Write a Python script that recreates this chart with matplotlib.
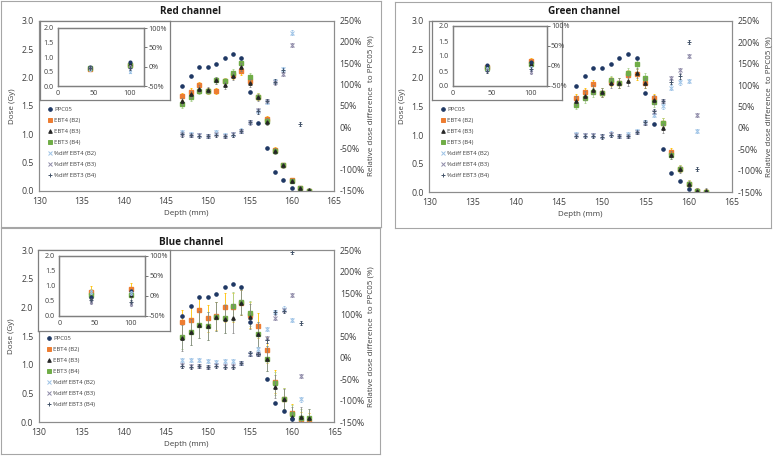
import numpy as np
import matplotlib
matplotlib.use("Agg")
from matplotlib import pyplot as plt
from matplotlib.lines import Line2D

plt.rcParams['font.family'] = ['Open Sans', 'DejaVu Sans']

nan = np.nan
depth = [147, 148, 149, 150, 151, 152, 153, 154, 155, 156, 157, 158, 159, 160, 161, 162]
inset_depth = [44, 100]

# reference chamber (same for every channel)
ppc05 = [1.85, 2.03, 2.18, 2.18, 2.24, 2.35, 2.41, 2.35, 1.74, 1.19, 0.75, 0.34, 0.20, 0.06, nan, nan]

# red channel
red_b2 = [1.67, 1.75, 1.86, 1.76, 1.76, 1.93, 2.05, 2.12, 1.93, 1.66, 1.27, 0.73, 0.46, 0.19, 0.05, 0.0]
red_b3 = [1.58, 1.70, 1.80, 1.78, 1.95, 1.86, 2.03, 2.18, 1.90, 1.65, 1.22, 0.71, 0.45, 0.18, 0.06, 0.02]
red_b4 = [1.53, 1.65, 1.76, 1.76, 1.95, 1.93, 2.08, 2.25, 2.00, 1.66, 1.23, 0.70, 0.45, 0.18, 0.05, 0.0]
red_err = [0.06, 0.06, 0.06, 0.06, 0.06, 0.06, 0.07, 0.07, 0.07, 0.06, 0.06, 0.05, 0.04, 0.04, 0.03, 0.03]
red_d2 = [-12, -17, -18, -20, -12, -19, -16, -8, 12, 38, 60, 108, 136, 222, nan, nan]
red_d3 = [-15, -18, -19, -20, -16, -20, -17, -9, 11, 40, 62, 105, 125, 193, nan, nan]
red_d4 = [-17, -19, -20, -21, -19, -20, -18, -9, 12, 37, 61, 107, 134, nan, 7, nan]

# green channel
green_b2 = [1.64, 1.75, 1.89, 1.74, 1.93, 1.91, 2.05, 2.06, 1.91, 1.64, 1.22, 0.70, 0.41, 0.15, 0.02, 0.0]
green_b3 = [1.60, 1.69, 1.79, 1.75, 1.91, 1.91, 1.95, 2.09, 1.91, 1.62, 1.12, 0.66, 0.40, 0.14, 0.03, 0.03]
green_b4 = [1.53, 1.64, 1.75, 1.74, 1.96, 1.91, 2.09, 2.24, 2.00, 1.57, 1.22, 0.65, 0.41, 0.15, 0.02, 0.0]
green_err = [0.08, 0.08, 0.08, 0.08, 0.08, 0.08, 0.09, 0.09, 0.08, 0.08, 0.08, 0.07, 0.06, 0.06, 0.05, 0.05]
green_d2 = [-14, -16, -16, -18, -13, -18, -14, -8, 14, 30, 50, 94, 106, 110, -7, nan]
green_d3 = [-16, -17, -17, -19, -15, -19, -18, -9, 12, 38, 63, 117, 134, 168, 30, nan]
green_d4 = [-18, -19, -18, -20, -16, -19, -19, -10, 13, 40, 62, 108, 120, 201, -96, nan]

# blue channel
blue_b2 = [1.74, 1.78, 1.95, 1.81, 1.85, 2.00, 2.00, 2.08, 1.87, 1.68, 1.26, 0.71, 0.41, 0.16, 0.02, 0.0]
blue_b3 = [1.47, 1.57, 1.70, 1.68, 1.84, 1.80, 1.81, 2.08, 1.84, 1.53, 1.11, 0.62, 0.40, 0.10, 0.10, 0.07]
blue_b4 = [1.49, 1.57, 1.70, 1.68, 1.84, 1.81, 2.02, 2.10, 1.90, 1.53, 1.11, 0.68, 0.41, 0.14, 0.08, 0.07]
blue_err = [0.22, 0.22, 0.24, 0.24, 0.25, 0.25, 0.25, 0.22, 0.22, 0.22, 0.22, 0.20, 0.18, 0.16, 0.16, 0.16]
blue_d2 = [-5, -6, -5, -7, -10, -8, -8, -12, 8, 20, 67, 106, 114, 88, -97, nan]
blue_d3 = [-18, -20, -19, -21, -17, -19, -20, -12, 9, 8, 45, 93, 110, 146, -43, nan]
blue_d4 = [-20, -21, -20, -22, -19, -21, -21, -13, 10, 9, 40, 106, 108, 246, 80, nan]

# insets
red_in = {"ppc": [0.65, 0.82], "b2": [0.60, 0.72], "b3": [0.63, 0.78], "b4": [0.62, 0.72],
          "d2": [-5, -12], "d3": [-3, 0], "d4": [-4, -2], "err": [0.06, 0.06]}
green_in = {"ppc": [0.70, 0.80], "b2": [0.65, 0.82], "b3": [0.62, 0.75], "b4": [0.60, 0.72],
            "d2": [-8, -5], "d3": [-10, -15], "d4": [-12, -8], "err": [0.1, 0.1]}
blue_in = {"ppc": [0.62, 0.82], "b2": [0.80, 0.88], "b3": [0.62, 0.70], "b4": [0.70, 0.68],
           "d2": [10, 8], "d3": [-15, -20], "d4": [-10, -15], "err": [0.2, 0.2]}

labels = ["PPC05", "EBT4 (B2)", "EBT4 (B3)", "EBT3 (B4)",
          "%diff EBT4 (B2)", "%diff EBT4 (B3)", "%diff EBT3 (B4)"]

NAVY = "#1F3864"
ORANGE = "#ED7D31"
BLACK = "#262626"
GREEN = "#70AD47"
LBLUE = "#9DC3E6"
GREY = "#8E8AA8"
DPLUS = "#44546A"
FRAME = "#8c8c8c"

W, H = 776, 457
fig = plt.figure(figsize=(W / 100, H / 100), dpi=100)


def fr(x0, y0, x1, y1):
    # pixel box (top-left origin) -> figure fraction rect
    return [x0 / W, 1 - y1 / H, (x1 - x0) / W, (y1 - y0) / H]


def series(ax, ax2, x, ppc, b2, b3, b4, err, d2, d3, d4, ms=1.0):
    ax.errorbar(x, b2, yerr=err, fmt="s", color=ORANGE, ecolor="#FFC000", ms=3.4 * ms,
                elinewidth=0.6, capsize=1.0, capthick=0.6, zorder=3)
    ax.errorbar(x, b3, yerr=err, fmt="^", color=BLACK, ecolor="#7f7f7f", ms=2.4 * ms,
                elinewidth=0.5, capsize=1.0, capthick=0.5, zorder=4)
    ax.errorbar(x, b4, yerr=err, fmt="s", color=GREEN, ecolor="#A9D18E", ms=3.0 * ms,
                elinewidth=0.6, capsize=1.0, capthick=0.6, zorder=3)
    ax.plot(x, ppc, "o", color=NAVY, ms=2.3 * ms, zorder=5)
    de = [5] * len(x)
    ax2.errorbar(x, d2, yerr=de, fmt="x", color=LBLUE, ms=2.4 * ms, mew=0.7,
                 elinewidth=0.4, capsize=0.8, capthick=0.4)
    ax2.errorbar(x, d3, yerr=de, fmt="x", color=GREY, ms=2.4 * ms, mew=0.7,
                 elinewidth=0.4, capsize=0.8, capthick=0.4)
    ax2.errorbar(x, d4, yerr=de, fmt="+", color=DPLUS, ms=2.8 * ms, mew=0.7,
                 elinewidth=0.4, capsize=0.8, capthick=0.4)


def pct(v, p):
    return "%d%%" % v


def legend_handles():
    spec = [("o", NAVY, 2.6), ("s", ORANGE, 3.2), ("^", BLACK, 2.6), ("s", GREEN, 3.0),
            ("x", LBLUE, 2.6), ("x", GREY, 2.6), ("+", DPLUS, 3.0)]
    return [Line2D([], [], ls="none", marker=m, color=c, ms=s, mew=0.7) for m, c, s in spec]


def panel(box, main, ibox, iarea, title, tpos, dat, ind, leg_xy):
    bx = fig.add_axes(fr(*box), zorder=-5)
    bx.set_xticks([]); bx.set_yticks([])
    for s in bx.spines.values():
        s.set_color("#a6a6a6"); s.set_linewidth(0.8)

    ax = fig.add_axes(fr(*main), zorder=1)
    ax2 = ax.twinx()
    ax2.set_zorder(2)
    ax.patch.set_alpha(0)
    series(ax, ax2, depth, ppc05, *dat)
    ax.set_xlim(130, 165)
    ax.set_ylim(0, 3.0)
    ax2.set_ylim(-150, 250)
    ax.set_xticks(np.arange(130, 166, 5))
    ax.set_yticks(np.arange(0, 3.01, 0.5))
    ax.yaxis.set_major_formatter(matplotlib.ticker.FormatStrFormatter("%.1f"))
    ax2.set_yticks(np.arange(-150, 251, 50))
    ax2.yaxis.set_major_formatter(matplotlib.ticker.FuncFormatter(pct))
    ax.tick_params(length=0, labelsize=6.3, colors="#404040", pad=4)
    ax2.tick_params(length=0, labelsize=6.3, colors="#404040", pad=4)
    for a in (ax, ax2):
        for s in a.spines.values():
            s.set_color(FRAME); s.set_linewidth(0.8)
    ax.set_xlabel("Depth (mm)", fontsize=5.8, color="#404040", labelpad=3)
    ax.set_ylabel("Dose (Gy)", fontsize=5.8, color="#404040", labelpad=4)
    ax2.set_ylabel("Relative dose difference  to PPC05 (%)", fontsize=5.8,
                   color="#404040", labelpad=2)
    fig.text(tpos[0] / W, 1 - tpos[1] / H, title, ha="center", va="center",
             fontsize=7.2, fontweight="bold", color="#1a1a1a")

    leg = ax2.legend(legend_handles(), labels, loc="upper left", fontsize=4.3, frameon=False,
                     bbox_to_anchor=(leg_xy[0] / W, 1 - leg_xy[1] / H),
                     bbox_transform=fig.transFigure, handlelength=0.7,
                     handletextpad=0.4, labelspacing=0.98, borderpad=0.1)
    for t in leg.get_texts():
        t.set_color("#404040")

    # inset
    ib = fig.add_axes(fr(*ibox), zorder=5)
    ib.set_xticks([]); ib.set_yticks([])
    for s in ib.spines.values():
        s.set_color("#7f7f7f"); s.set_linewidth(0.9)
    ia = fig.add_axes(fr(*iarea), zorder=6)
    ia2 = ia.twinx()
    ia2.set_zorder(7)
    ia.patch.set_alpha(0)
    series(ia, ia2, inset_depth, ind["ppc"], ind["b2"], ind["b3"], ind["b4"], ind["err"],
           ind["d2"], ind["d3"], ind["d4"], ms=0.85)
    ia.set_xlim(0, 120)
    ia.set_ylim(0, 2.0)
    ia2.set_ylim(-50, 100)
    ia.set_xticks([0, 50, 100])
    ia.set_yticks(np.arange(0, 2.01, 0.5))
    ia.yaxis.set_major_formatter(matplotlib.ticker.FormatStrFormatter("%.1f"))
    ia2.set_yticks([-50, 0, 50, 100])
    ia2.yaxis.set_major_formatter(matplotlib.ticker.FuncFormatter(pct))
    ia.tick_params(length=0, labelsize=5.2, colors="#404040", pad=3)
    ia2.tick_params(length=2, width=0.5, labelsize=5.2, colors="#404040", pad=1)
    for a in (ia, ia2):
        for s in a.spines.values():
            s.set_color("#7f7f7f"); s.set_linewidth(0.9)


panel((1, 1, 381, 227), (39.3, 20.7, 334, 191), (40, 21, 170, 100), (58, 28, 144, 86.3),
      "Red channel", (190.7, 12),
      (red_b2, red_b3, red_b4, red_err, red_d2, red_d3, red_d4), red_in, (44, 103))
panel((395, 2, 771, 228), (429.3, 20.7, 731.7, 192.3), (431.7, 20.7, 562.3, 100),
      (452.7, 26, 546.7, 86), "Green channel", (584, 12),
      (green_b2, green_b3, green_b4, green_err, green_d2, green_d3, green_d4), green_in,
      (437, 103))
panel((1, 228, 380, 454), (39, 250, 334.3, 422.3), (38.3, 250, 170, 331),
      (59.3, 255.7, 145, 316), "Blue channel", (190.7, 242.3),
      (blue_b2, blue_b3, blue_b4, blue_err, blue_d2, blue_d3, blue_d4), blue_in,
      (43, 332))

fig.savefig("out.png", dpi=100)
